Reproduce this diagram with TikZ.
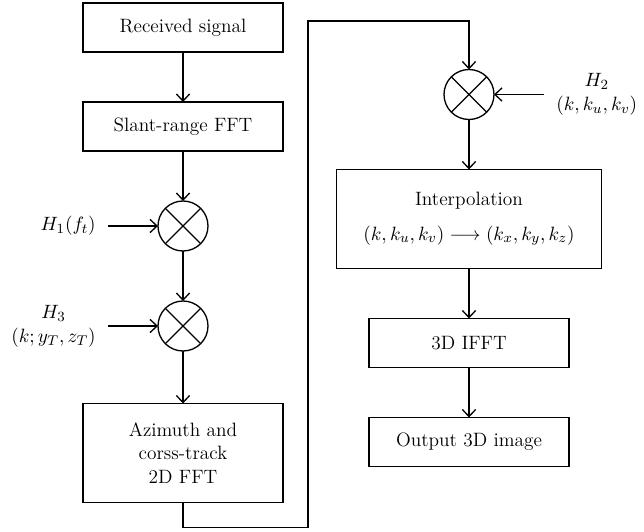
\documentclass[tikz,border=0pt]{standalone}
\usepackage{amsmath,amssymb}
\usepackage{tikz}
\usetikzlibrary{positioning,calc,arrows.meta}

\begin{document}
\begin{tikzpicture}[node distance=1cm, line width=0.75pt,
  >={Straight Barb[length=4pt,width=7.5pt]},
  sar node/.style={rectangle, draw, align=center, fill=white, inner sep=0pt, outer sep=0pt,
    minimum width=4cm, minimum height=0.98cm, font=\fontsize{11}{13.5}\selectfont},
  mix node/.style={circle, draw, minimum size=1cm, inner sep=0pt, outer sep=0pt,
    path picture={\draw (path picture bounding box.north west) -- (path picture bounding box.south east)
      (path picture bounding box.south west) -- (path picture bounding box.north east);}},
  lbl node/.style={align=center, inner xsep=7pt, inner ysep=2pt, outer sep=0pt,
    font=\fontsize{11}{13.5}\selectfont}]

  \useasboundingbox (0,0) rectangle (12.88,-10.62);

  % left column
  \node [sar node] (Recv) at (3.66,-0.55) {Received signal};
  \node [sar node, below=of Recv] (Slant) {Slant-range FFT};
  \node [mix node, below=of Slant] (MixA) {};
  \node [mix node, below=of MixA] (MixC) {};
  \node [sar node, below=1.05cm of MixC, minimum height=1.98cm] (Azim)
    {Azimuth and\\ corss-track\\ 2D FFT};

  \node [lbl node, left=1cm of MixA] (HA) {$H_1(f_t)$};
  \node [lbl node, left=1cm of MixC] (HC) {$H_3$\\ $(k;y_T,z_T)$};

  % right column
  \node [mix node] (MixB) at (9.38,-1.89) {};
  \node [lbl node, right=1cm of MixB] (HB) {$H_2$\\ $(k,k_u,k_v)$};
  \node [sar node, below=of MixB, minimum width=5.3cm, minimum height=1.98cm] (Interp)
    {Interpolation\\[6pt] $(k,k_u,k_v)\longrightarrow(k_x,k_y,k_z)$};
  \node [sar node, below=of Interp] (IFFT) {3D IFFT};
  \node [sar node, below=of IFFT] (Out) {Output 3D image};

  \coordinate (Turn) at (6.16,-0.42);

  \draw [->] (Recv) -- (Slant);
  \draw [->] (Slant) -- (MixA);
  \draw [->] (MixA) -- (MixC);
  \draw [->] (MixC) -- (Azim);
  \draw [->] (HA.east) -- (MixA.west);
  \draw [->] (HC.east) -- (MixC.west);
  \draw [->] (Azim.south) -- ++(0,-0.5) -| (Turn) -| (MixB.north);
  \draw [->] (HB.west) -- (MixB.east);
  \draw [->] (MixB) -- (Interp);
  \draw [->] (Interp) -- (IFFT);
  \draw [->] (IFFT) -- (Out);
\end{tikzpicture}
\end{document}
